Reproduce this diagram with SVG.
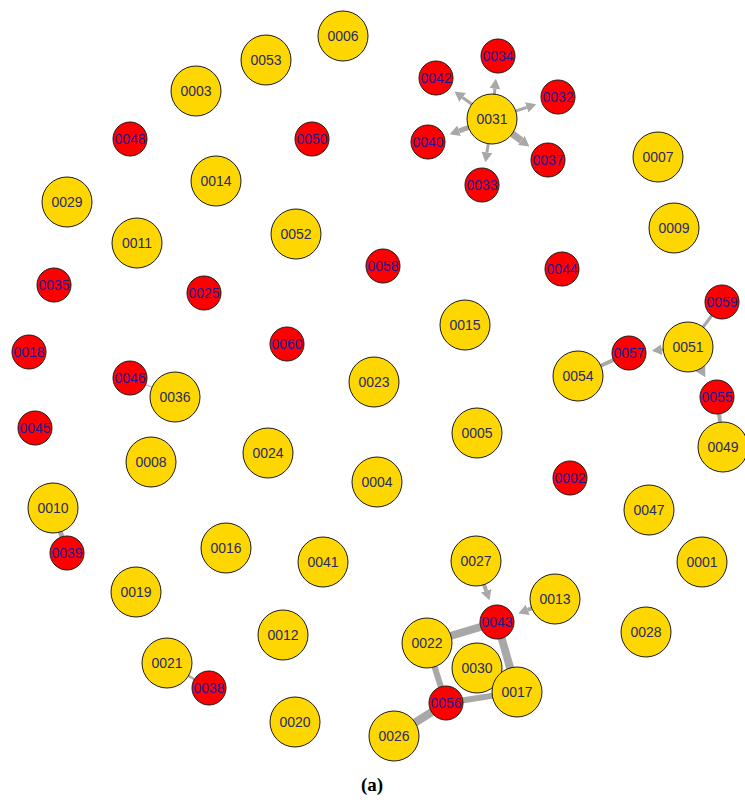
<svg xmlns="http://www.w3.org/2000/svg" width="745" height="802" viewBox="0 0 745 802">
<style>
.y{fill:#FFD700;stroke:#1a1a1a;stroke-width:1}
.r{fill:#FF0000;stroke:#1a1a1a;stroke-width:1}
text{font-family:"Liberation Sans",Arial,sans-serif;font-size:14px;text-anchor:middle}
.ty{fill:#2a2a66}
.tr{fill:#1a1a9a}
.e{stroke:#A8A8A8;fill:none}
.a{stroke:#A8A8A8;fill:none;marker-end:url(#arr)}
.cap{font-family:"Liberation Serif","Times New Roman",serif;font-size:19px;font-weight:bold;fill:#000}
</style>
<defs>
<marker id="arr" markerUnits="userSpaceOnUse" markerWidth="10" markerHeight="11" viewBox="0 0 10 11" refX="0" refY="5.5" orient="auto">
<path d="M0,0 L10,5.5 L0,11 z" fill="#A8A8A8"/>
</marker>
</defs>
<rect width="745" height="802" fill="#fff"/>
<g id="edges">
<line class="e" x1="688" y1="347" x2="722" y2="302" stroke-width="3"/>
<line class="e" x1="629" y1="353" x2="578" y2="376" stroke-width="4"/>
<line class="e" x1="717" y1="397" x2="723" y2="447" stroke-width="4"/>
<line class="e" x1="427" y1="643" x2="497" y2="622" stroke-width="8"/>
<line class="e" x1="497" y1="622" x2="517" y2="692" stroke-width="8"/>
<line class="e" x1="427" y1="643" x2="446" y2="703" stroke-width="6"/>
<line class="e" x1="446" y1="703" x2="517" y2="692" stroke-width="6"/>
<line class="e" x1="394" y1="736" x2="446" y2="703" stroke-width="8"/>
<line class="e" x1="53" y1="508" x2="67" y2="553" stroke-width="5"/>
<line class="e" x1="167" y1="663" x2="209" y2="688" stroke-width="2.5"/>
<line class="e" x1="130" y1="378" x2="175" y2="397" stroke-width="1"/>
<line class="a" x1="492" y1="119" x2="494.9" y2="88.8" stroke-width="3"/>
<line class="a" x1="492" y1="119" x2="462.6" y2="97.5" stroke-width="3"/>
<line class="a" x1="492" y1="119" x2="526.7" y2="107.4" stroke-width="3"/>
<line class="a" x1="492" y1="119" x2="459.1" y2="130.8" stroke-width="5"/>
<line class="a" x1="492" y1="119" x2="521.4" y2="140.5" stroke-width="7"/>
<line class="a" x1="492" y1="119" x2="486.9" y2="152.4" stroke-width="3"/>
<line class="a" x1="688" y1="347" x2="661.8" y2="349.7" stroke-width="3"/>
<line class="a" x1="688" y1="347" x2="700.4" y2="368.5" stroke-width="3"/>
<line class="a" x1="476" y1="561" x2="486.2" y2="590.8" stroke-width="4"/>
<line class="a" x1="555" y1="599" x2="527.7" y2="609.8" stroke-width="4"/>
</g>
<g id="n0006"><circle class="y" cx="343" cy="36" r="25"/><text class="ty" x="343" y="41">0006</text></g>
<g id="n0053"><circle class="y" cx="266" cy="60" r="25"/><text class="ty" x="266" y="65">0053</text></g>
<g id="n0003"><circle class="y" cx="196" cy="91" r="25"/><text class="ty" x="196" y="96">0003</text></g>
<g id="n0031"><circle class="y" cx="492" cy="119" r="25"/><text class="ty" x="492" y="124">0031</text></g>
<g id="n0007"><circle class="y" cx="658" cy="157" r="25"/><text class="ty" x="658" y="162">0007</text></g>
<g id="n0014"><circle class="y" cx="216" cy="181" r="25"/><text class="ty" x="216" y="186">0014</text></g>
<g id="n0029"><circle class="y" cx="67" cy="202" r="25"/><text class="ty" x="67" y="207">0029</text></g>
<g id="n0009"><circle class="y" cx="674" cy="228" r="25"/><text class="ty" x="674" y="233">0009</text></g>
<g id="n0011"><circle class="y" cx="137" cy="243" r="25"/><text class="ty" x="137" y="248">0011</text></g>
<g id="n0052"><circle class="y" cx="296" cy="234" r="25"/><text class="ty" x="296" y="239">0052</text></g>
<g id="n0015"><circle class="y" cx="465" cy="325" r="25"/><text class="ty" x="465" y="330">0015</text></g>
<g id="n0051"><circle class="y" cx="688" cy="347" r="25"/><text class="ty" x="688" y="352">0051</text></g>
<g id="n0054"><circle class="y" cx="578" cy="376" r="25"/><text class="ty" x="578" y="381">0054</text></g>
<g id="n0036"><circle class="y" cx="175" cy="397" r="25"/><text class="ty" x="175" y="402">0036</text></g>
<g id="n0023"><circle class="y" cx="374" cy="382" r="25"/><text class="ty" x="374" y="387">0023</text></g>
<g id="n0005"><circle class="y" cx="477" cy="433" r="25"/><text class="ty" x="477" y="438">0005</text></g>
<g id="n0049"><circle class="y" cx="723" cy="447" r="25"/><text class="ty" x="723" y="452">0049</text></g>
<g id="n0024"><circle class="y" cx="268" cy="453" r="25"/><text class="ty" x="268" y="458">0024</text></g>
<g id="n0004"><circle class="y" cx="377" cy="482" r="25"/><text class="ty" x="377" y="487">0004</text></g>
<g id="n0008"><circle class="y" cx="151" cy="462" r="25"/><text class="ty" x="151" y="467">0008</text></g>
<g id="n0010"><circle class="y" cx="53" cy="508" r="25"/><text class="ty" x="53" y="513">0010</text></g>
<g id="n0047"><circle class="y" cx="649" cy="510" r="25"/><text class="ty" x="649" y="515">0047</text></g>
<g id="n0016"><circle class="y" cx="226" cy="548" r="25"/><text class="ty" x="226" y="553">0016</text></g>
<g id="n0041"><circle class="y" cx="323" cy="562" r="25"/><text class="ty" x="323" y="567">0041</text></g>
<g id="n0027"><circle class="y" cx="476" cy="561" r="25"/><text class="ty" x="476" y="566">0027</text></g>
<g id="n0001"><circle class="y" cx="702" cy="562" r="25"/><text class="ty" x="702" y="567">0001</text></g>
<g id="n0019"><circle class="y" cx="136" cy="592" r="25"/><text class="ty" x="136" y="597">0019</text></g>
<g id="n0013"><circle class="y" cx="555" cy="599" r="25"/><text class="ty" x="555" y="604">0013</text></g>
<g id="n0012"><circle class="y" cx="283" cy="635" r="25"/><text class="ty" x="283" y="640">0012</text></g>
<g id="n0022"><circle class="y" cx="427" cy="643" r="25"/><text class="ty" x="427" y="648">0022</text></g>
<g id="n0028"><circle class="y" cx="646" cy="632" r="25"/><text class="ty" x="646" y="637">0028</text></g>
<g id="n0030"><circle class="y" cx="477" cy="668" r="25"/><text class="ty" x="477" y="673">0030</text></g>
<g id="n0017"><circle class="y" cx="517" cy="692" r="25"/><text class="ty" x="517" y="697">0017</text></g>
<g id="n0021"><circle class="y" cx="167" cy="663" r="25"/><text class="ty" x="167" y="668">0021</text></g>
<g id="n0020"><circle class="y" cx="295" cy="722" r="25"/><text class="ty" x="295" y="727">0020</text></g>
<g id="n0026"><circle class="y" cx="394" cy="736" r="25"/><text class="ty" x="394" y="741">0026</text></g>
<g id="n0034"><circle class="r" cx="498" cy="56" r="17"/><text class="tr" x="498" y="61">0034</text></g>
<g id="n0042"><circle class="r" cx="436" cy="78" r="17"/><text class="tr" x="436" y="83">0042</text></g>
<g id="n0032"><circle class="r" cx="558" cy="97" r="17"/><text class="tr" x="558" y="102">0032</text></g>
<g id="n0048"><circle class="r" cx="130" cy="139" r="17"/><text class="tr" x="130" y="144">0048</text></g>
<g id="n0050"><circle class="r" cx="312" cy="139" r="17"/><text class="tr" x="312" y="144">0050</text></g>
<g id="n0040"><circle class="r" cx="428" cy="142" r="17"/><text class="tr" x="428" y="147">0040</text></g>
<g id="n0037"><circle class="r" cx="548" cy="160" r="17"/><text class="tr" x="548" y="165">0037</text></g>
<g id="n0033"><circle class="r" cx="482" cy="185" r="17"/><text class="tr" x="482" y="190">0033</text></g>
<g id="n0058"><circle class="r" cx="383" cy="266" r="17"/><text class="tr" x="383" y="271">0058</text></g>
<g id="n0044"><circle class="r" cx="562" cy="269" r="17"/><text class="tr" x="562" y="274">0044</text></g>
<g id="n0035"><circle class="r" cx="54" cy="285" r="17"/><text class="tr" x="54" y="290">0035</text></g>
<g id="n0025"><circle class="r" cx="204" cy="293" r="17"/><text class="tr" x="204" y="298">0025</text></g>
<g id="n0059"><circle class="r" cx="722" cy="302" r="17"/><text class="tr" x="722" y="307">0059</text></g>
<g id="n0060"><circle class="r" cx="287" cy="344" r="17"/><text class="tr" x="287" y="349">0060</text></g>
<g id="n0018"><circle class="r" cx="29" cy="352" r="17"/><text class="tr" x="29" y="357">0018</text></g>
<g id="n0057"><circle class="r" cx="629" cy="353" r="17"/><text class="tr" x="629" y="358">0057</text></g>
<g id="n0046"><circle class="r" cx="130" cy="378" r="17"/><text class="tr" x="130" y="383">0046</text></g>
<g id="n0055"><circle class="r" cx="717" cy="397" r="17"/><text class="tr" x="717" y="402">0055</text></g>
<g id="n0045"><circle class="r" cx="35" cy="428" r="17"/><text class="tr" x="35" y="433">0045</text></g>
<g id="n0002"><circle class="r" cx="570" cy="478" r="17"/><text class="tr" x="570" y="483">0002</text></g>
<g id="n0039"><circle class="r" cx="67" cy="553" r="17"/><text class="tr" x="67" y="558">0039</text></g>
<g id="n0043"><circle class="r" cx="497" cy="622" r="17"/><text class="tr" x="497" y="627">0043</text></g>
<g id="n0056"><circle class="r" cx="446" cy="703" r="17"/><text class="tr" x="446" y="708">0056</text></g>
<g id="n0038"><circle class="r" cx="209" cy="688" r="17"/><text class="tr" x="209" y="693">0038</text></g>
<text class="cap" x="372" y="791">(a)</text>
</svg>
